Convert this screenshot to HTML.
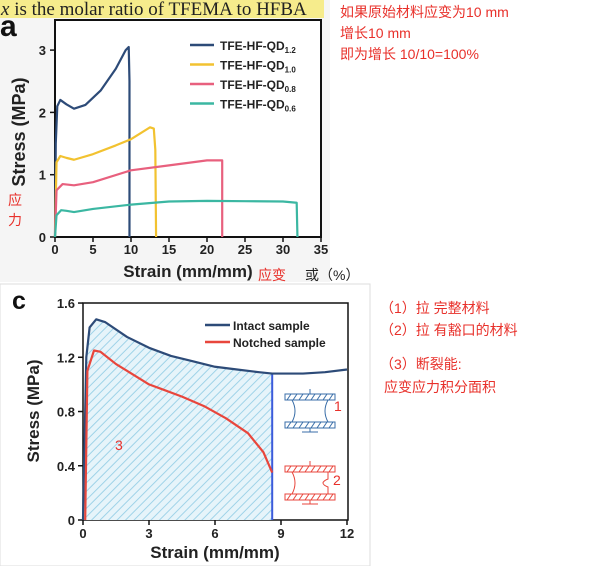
<!DOCTYPE html>
<html><head><meta charset="utf-8"><style>
body{margin:0;width:595px;height:566px;overflow:hidden;background:#fff;font-family:"Liberation Sans","Noto Sans CJK SC",sans-serif;position:relative}
.note{position:absolute;color:#e8302a;font-size:14px;white-space:nowrap}
</style></head><body>
<svg id="chart" width="595" height="566" style="position:absolute;left:0;top:0">
<defs><pattern id="hatch" width="6" height="6" patternUnits="userSpaceOnUse" patternTransform="rotate(45)"><rect width="6" height="6" fill="#e6f4fa"/><line x1="0" y1="0" x2="0" y2="6" stroke="#9fd3e8" stroke-width="2"/></pattern></defs>
<rect x="0" y="0" width="330" height="282" fill="#f5f5f5"/>
<text x="0" y="36" font-size="30" font-weight="bold" fill="#111">a</text>
<rect x="0" y="0" width="324" height="18" fill="#f6ec8c"/>
<text x="1" y="15" font-family="Liberation Serif,serif" font-size="19" fill="#222"><tspan font-style="italic">x</tspan> is the molar ratio of TFEMA to HFBA</text>
<g id="ga"></g>
<rect x="0" y="284" width="370" height="282" fill="#fff" stroke="#ddd"/>
<text x="12" y="309" font-size="25" font-weight="bold" fill="#111">c</text>
<g id="gc"></g>
</svg>
<div class="note" style="left:340px;top:2px">如果原始材料应变为10 mm</div>
<div class="note" style="left:340px;top:23px">增长10 mm</div>
<div class="note" style="left:340px;top:44px">即为增长 10/10=100%</div>
<div class="note" style="left:8px;top:190px;line-height:20px">应<br>力</div>
<div class="note" style="left:258px;top:265px">应变</div>
<div class="note" style="left:305px;top:265px;color:#222">或（%）</div>
<div class="note" style="left:380px;top:298px">（1）拉 完整材料</div>
<div class="note" style="left:380px;top:320px">（2）拉 有豁口的材料</div>
<div class="note" style="left:380px;top:354px">（3）断裂能:</div>
<div class="note" style="left:384px;top:377px">应变应力积分面积</div>
<div class="note" style="left:115px;top:437px">3</div>
<div class="note" style="left:334px;top:398px">1</div>
<div class="note" style="left:333px;top:472px">2</div>
<script>
const aTicksX=[0,5,10,15,20,25,30,35];
const aTicksY=[0,1,2,3];
const aNames=["TFE-HF-QD","TFE-HF-QD","TFE-HF-QD","TFE-HF-QD"];
const aSubs=["1.2","1.0","0.8","0.6"];
const aColors=["#2d4b78","#f2c230","#e8607e","#3bb7a2"];
const s12x=[0,0.1,0.3,0.7,1.5,2.5,4,6,8,9.3,9.7,9.8,9.8];
const s12y=[0,1.5,2.1,2.2,2.13,2.06,2.12,2.35,2.7,3.0,3.05,2.5,0];
const s10x=[0,0.2,0.7,1.5,2.5,5,8,10,12.5,13,13.2,13.3];
const s10y=[0,1.2,1.3,1.27,1.24,1.33,1.47,1.57,1.76,1.74,1.4,0];
const s08x=[0,0.2,1,2.5,5,10,15,20,22,22];
const s08y=[0,0.75,0.85,0.83,0.88,1.07,1.15,1.23,1.23,0];
const s06x=[0,0.2,0.8,1.5,2.5,5,10,15,20,25,30,31.8,31.9];
const s06y=[0,0.35,0.43,0.42,0.4,0.45,0.52,0.57,0.58,0.575,0.57,0.55,0];
const cTicksX=[0,3,6,9,12];
const cTicksY=[0,0.4,0.8,1.2,1.6];
const intX=[0,0.15,0.3,0.6,1,2,3,4,5,6,7,8,8.6,9,10,11,12];
const intY=[0,1.2,1.42,1.48,1.46,1.35,1.27,1.21,1.17,1.13,1.11,1.09,1.08,1.08,1.08,1.09,1.11];
const notX=[0.1,0.2,0.5,0.8,1.5,2,3,3.5,4.5,5.5,6.5,7.5,8.2,8.6];
const notY=[0,1.1,1.25,1.24,1.15,1.1,1.0,0.97,0.91,0.84,0.75,0.64,0.5,0.35];
const breakX=8.6;
const NS="http://www.w3.org/2000/svg";
function mk(p,t,a){const e=document.createElementNS(NS,t);for(const k in a)e.setAttribute(k,a[k]);p.appendChild(e);return e;}
const ga=document.getElementById('ga');
const ax=v=>55+v*(266/35), ay=v=>237-v*62.3;
let r=mk(ga,'rect',{x:55,y:20,width:266,height:217,fill:'#fff',stroke:'#111','stroke-width':2});


aTicksX.forEach(t=>{let l=mk(ga,'line',{x1:ax(t),x2:ax(t),y1:237,y2:242,stroke:'#111','stroke-width':1.5});


let tx=mk(ga,'text',{x:ax(t),y:254,'text-anchor':'middle','font-size':13,'font-weight':'bold',fill:'#222'});tx.textContent=t;

});
aTicksY.forEach(t=>{let l=mk(ga,'line',{x1:50,x2:55,y1:ay(t),y2:ay(t),stroke:'#111','stroke-width':1.5});


let tx=mk(ga,'text',{x:46,y:ay(t)+5,'text-anchor':'end','font-size':13,'font-weight':'bold',fill:'#222'});tx.textContent=t;

});
let xt=mk(ga,'text',{x:188,y:277,'text-anchor':'middle','font-size':17,'font-weight':'bold',fill:'#222'});xt.textContent='Strain (mm/mm)';


let yt=mk(ga,'text',{x:0,y:0,'text-anchor':'middle','font-size':18,'font-weight':'bold',fill:'#222',transform:'translate(25,132) rotate(-90)'});yt.textContent='Stress (MPa)';


[[s12x,s12y],[s10x,s10y],[s08x,s08y],[s06x,s06y]].forEach((s,i)=>{
let p=mk(ga,'polyline',{points:s[0].map((v,j)=>ax(v)+','+ay(s[1][j])).join(' '),fill:'none',stroke:aColors[i],'stroke-width':2.2,'stroke-linejoin':'round'});


let y=45+i*19.5;
let l=mk(ga,'line',{x1:190,x2:214,y1:y,y2:y,stroke:aColors[i],'stroke-width':2.5});


let t=mk(ga,'text',{x:220,y:y+5,'font-size':12,'font-weight':'bold',fill:'#222'});t.innerHTML=aNames[i]+'<tspan font-size="8" dy="3">'+aSubs[i]+'</tspan>';

});
const gc=document.getElementById('gc');
const cx=v=>83+v*22, cy=v=>520-v*135.6;
r=mk(gc,'rect',{x:83,y:303,width:265,height:217,fill:'#fff',stroke:'#111','stroke-width':1.5});


const ai=intX.map((v,j)=>[v,intY[j]]).filter(p=>p[0]<=breakX);
let area=mk(gc,'polygon',{points:ai.map(p=>cx(p[0])+','+cy(p[1])).join(' ')+' '+cx(breakX)+','+cy(0),fill:'url(#hatch)'});


cTicksX.forEach(t=>{let l=mk(gc,'line',{x1:cx(t),x2:cx(t),y1:520,y2:525,stroke:'#111','stroke-width':1.5});


let tx=mk(gc,'text',{x:cx(t),y:538,'text-anchor':'middle','font-size':13,'font-weight':'bold',fill:'#222'});tx.textContent=t;

});
cTicksY.forEach(t=>{let l=mk(gc,'line',{x1:78,x2:83,y1:cy(t),y2:cy(t),stroke:'#111','stroke-width':1.5});


let tx=mk(gc,'text',{x:75,y:cy(t)+5,'text-anchor':'end','font-size':13,'font-weight':'bold',fill:'#222'});tx.textContent=t===0?'0':t.toFixed(1);

});
xt=mk(gc,'text',{x:215,y:558,'text-anchor':'middle','font-size':17,'font-weight':'bold',fill:'#222'});xt.textContent='Strain (mm/mm)';


yt=mk(gc,'text',{x:0,y:0,'text-anchor':'middle','font-size':17,'font-weight':'bold',fill:'#222',transform:'translate(39,411) rotate(-90)'});yt.textContent='Stress (MPa)';


let vl=mk(gc,'line',{x1:cx(breakX),x2:cx(breakX),y1:cy(1.08),y2:520,stroke:'#3b5bdb','stroke-width':2});


let p1=mk(gc,'polyline',{points:intX.map((v,j)=>cx(v)+','+cy(intY[j])).join(' '),fill:'none',stroke:'#2d4b78','stroke-width':2.2,'stroke-linejoin':'round'});


let p2=mk(gc,'polyline',{points:notX.map((v,j)=>cx(v)+','+cy(notY[j])).join(' '),fill:'none',stroke:'#e8463c','stroke-width':2.2,'stroke-linejoin':'round'});


[['Intact sample','#2d4b78'],['Notched sample','#e8463c']].forEach((e,i)=>{let y=325+i*17;
let l=mk(gc,'line',{x1:205,x2:230,y1:y,y2:y,stroke:e[1],'stroke-width':2.5});


let t=mk(gc,'text',{x:233,y:y+5,'font-size':12,'font-weight':'bold',fill:'#222'});t.textContent=e[0];

});
function diag(y0,col,notch,name){const g=mk(gc,'g',{stroke:col,fill:'none','stroke-width':1});


mk(g,'rect',{x:285,y:y0,width:50,height:6});mk(g,'rect',{x:285,y:y0+28,width:50,height:6});
mk(g,'line',{x1:310,y1:y0-5,x2:310,y2:y0});mk(g,'line',{x1:310,y1:y0+34,x2:310,y2:y0+38});mk(g,'line',{x1:302,y1:y0+38,x2:318,y2:y0+38});
for(let k=0;k<8;k++){mk(g,'line',{x1:287+k*6,y1:y0+6,x2:291+k*6,y2:y0});mk(g,'line',{x1:287+k*6,y1:y0+34,x2:291+k*6,y2:y0+28});}
mk(g,'path',{d:`M292 ${y0+6} Q298 ${y0+17} 292 ${y0+28}`});
mk(g,'path',{d:notch?`M328 ${y0+6} L328 ${y0+13} Q318 ${y0+17} 328 ${y0+21} L328 ${y0+28}`:`M328 ${y0+6} Q322 ${y0+17} 328 ${y0+28}`});}
diag(394,'#3a6ea8',false,'intact-diagram');
diag(466,'#e8463c',true,'notched-diagram');
</script>
</body></html>
